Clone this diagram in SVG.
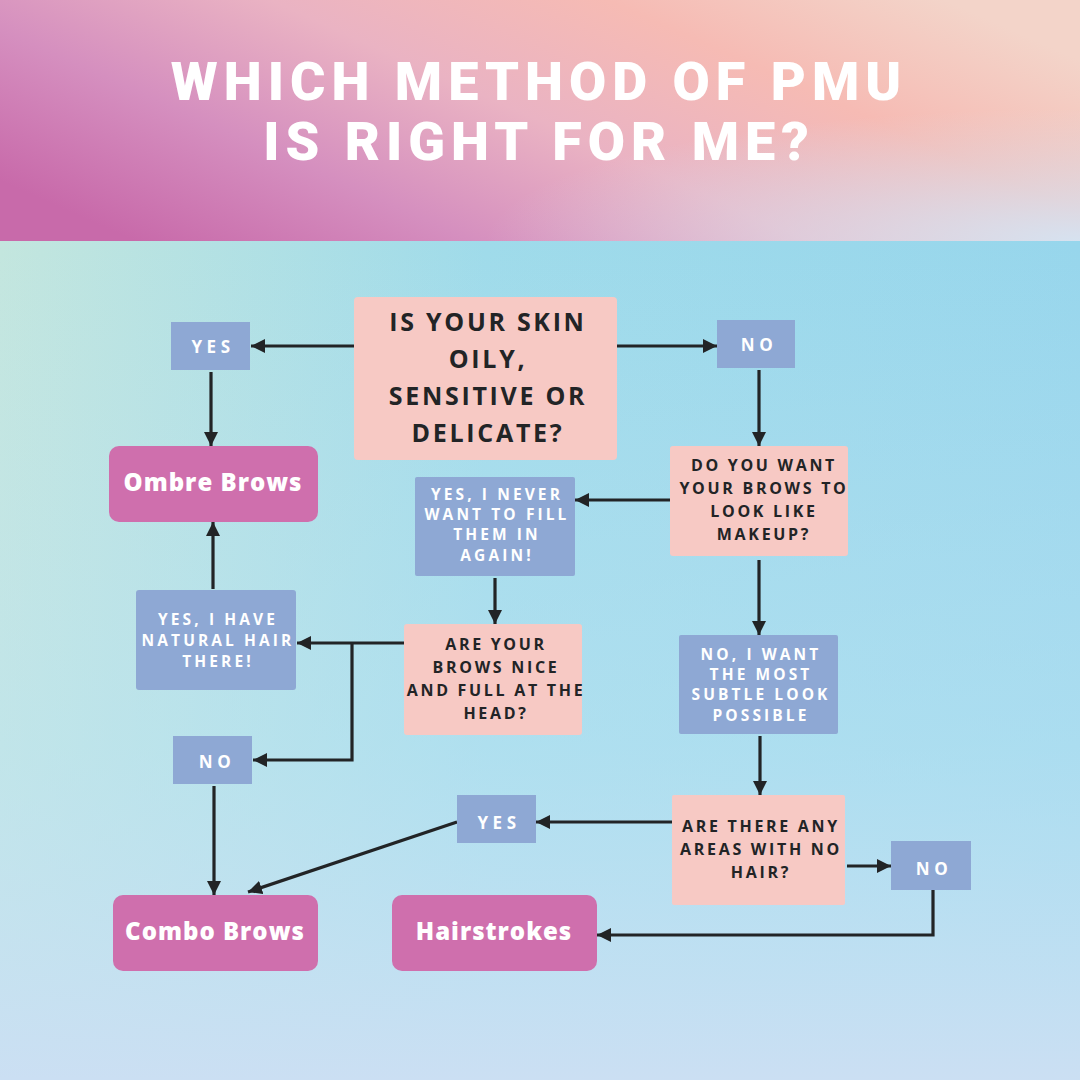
<svg xmlns="http://www.w3.org/2000/svg" width="1080" height="1080" viewBox="0 0 1080 1080">
<defs>
<linearGradient id="hdr" x1="0" y1="0.75" x2="1" y2="0.25">
<stop offset="0" stop-color="#c86aaa"/>
<stop offset="0.25" stop-color="#d58fbf"/>
<stop offset="0.5" stop-color="#eab3c3"/>
<stop offset="0.75" stop-color="#f6bbb4"/>
<stop offset="1" stop-color="#f3d4c9"/>
</linearGradient>
<radialGradient id="hdr2" cx="1" cy="1" r="0.55">
<stop offset="0" stop-color="#d6e2f0" stop-opacity="1"/>
<stop offset="1" stop-color="#d6e2f0" stop-opacity="0"/>
</radialGradient>
<linearGradient id="bg" x1="0" y1="0" x2="1" y2="0">
<stop offset="0" stop-color="#c3e6de"/>
<stop offset="0.45" stop-color="#9fdbea"/>
<stop offset="1" stop-color="#97d6ec"/>
</linearGradient>
<linearGradient id="bg2" x1="0" y1="0" x2="0" y2="1">
<stop offset="0" stop-color="#c6e3f4" stop-opacity="0"/>
<stop offset="0.6" stop-color="#bfe4f4" stop-opacity="0.5"/>
<stop offset="1" stop-color="#cbdff3" stop-opacity="1"/>
</linearGradient>
<marker id="ah" viewBox="0 0 10 10" refX="10" refY="5" markerWidth="14" markerHeight="14" markerUnits="userSpaceOnUse" orient="auto">
<path d="M0,0 L10,5 L0,10 Z" fill="#222426"/>
</marker>
<style>
.pink{fill:#f7c9c4}
.blue{fill:#8ea8d4}
.mag{fill:#cf6fad}
.q{font-family:"Open Sans","DejaVu Sans",sans-serif;font-weight:bold;fill:#222426;text-anchor:middle;letter-spacing:2.7px}
.a{font-family:"Open Sans","DejaVu Sans",sans-serif;font-weight:bold;fill:#ffffff;text-anchor:middle;letter-spacing:3.1px}
.s{font-family:"Open Sans","DejaVu Sans",sans-serif;font-weight:bold;fill:#ffffff;text-anchor:middle;letter-spacing:4.5px;font-size:17px}
.r{font-family:"Open Sans","DejaVu Sans",sans-serif;font-weight:800;fill:#ffffff;text-anchor:middle;font-size:24px;letter-spacing:1px}
.ttl{font-family:"Roboto","Liberation Sans",sans-serif;font-weight:900;fill:#ffffff;text-anchor:middle;font-size:54px;letter-spacing:6px}
.c{fill:none;stroke:#222426;stroke-width:3.2;marker-end:url(#ah)}
</style>
</defs>
<rect x="0" y="0" width="1080" height="1080" fill="url(#bg)"/>
<rect x="0" y="241" width="1080" height="839" fill="url(#bg2)"/>
<rect x="0" y="0" width="1080" height="241" fill="url(#hdr)"/>
<rect x="0" y="0" width="1080" height="241" fill="url(#hdr2)"/>
<g id="title">
<text class="ttl" x="539" y="100">WHICH METHOD OF PMU</text>
<text class="ttl" x="539" y="160">IS RIGHT FOR ME?</text>
</g>
<g id="connectors">
<path class="c" d="M354,346 H251"/>
<path class="c" d="M617,346 H717"/>
<path class="c" d="M211,372 V446"/>
<path class="c" d="M759,370 V446"/>
<path class="c" d="M670,500 H575"/>
<path class="c" d="M759,560 V635"/>
<path class="c" d="M495,578 V624"/>
<path class="c" d="M404,643 H297"/>
<path class="c" d="M352,643 V760 H253"/>
<path class="c" d="M213,589 V522"/>
<path class="c" d="M214,786 V895"/>
<path class="c" d="M457,822 L248,892"/>
<path class="c" d="M760,736 V795"/>
<path class="c" d="M672,822 H536"/>
<path class="c" d="M847,866 H891"/>
<path class="c" d="M933,890 V935 H597"/>
</g>
<g id="q1"><rect class="pink" x="354" y="297" width="263" height="163" rx="4"/>
<text class="q" font-size="25" letter-spacing="5"><tspan x="488" y="331">IS YOUR SKIN</tspan><tspan x="488" y="368">OILY,</tspan><tspan x="488" y="405">SENSITIVE OR</tspan><tspan x="488" y="442">DELICATE?</tspan></text></g>
<g id="yes1"><rect class="blue" x="171" y="322" width="79" height="48"/><text class="s" x="213" y="353">YES</text></g>
<g id="no1"><rect class="blue" x="717" y="320" width="78" height="48"/><text class="s" x="759" y="351">NO</text></g>
<g id="ombre"><rect class="mag" x="109" y="446" width="209" height="76" rx="10"/><text class="r" x="213" y="491">Ombre Brows</text></g>
<g id="q2"><rect class="pink" x="670" y="446" width="178" height="110" rx="3"/>
<text class="q" font-size="16"><tspan x="764" y="471">DO YOU WANT</tspan><tspan x="764" y="494">YOUR BROWS TO</tspan><tspan x="764" y="517">LOOK LIKE</tspan><tspan x="764" y="540">MAKEUP?</tspan></text></g>
<g id="yesnever"><rect class="blue" x="415" y="477" width="160" height="99" rx="2"/>
<text class="a" font-size="15.5"><tspan x="497" y="500">YES, I NEVER</tspan><tspan x="497" y="520">WANT TO FILL</tspan><tspan x="497" y="540">THEM IN</tspan><tspan x="497" y="561">AGAIN!</tspan></text></g>
<g id="q3"><rect class="pink" x="404" y="624" width="178" height="111" rx="3"/>
<text class="q" font-size="16"><tspan x="496" y="650">ARE YOUR</tspan><tspan x="496" y="673">BROWS NICE</tspan><tspan x="496" y="696">AND FULL AT THE</tspan><tspan x="496" y="719">HEAD?</tspan></text></g>
<g id="nowant"><rect class="blue" x="679" y="635" width="159" height="99" rx="2"/>
<text class="a" font-size="15.5"><tspan x="761" y="660">NO, I WANT</tspan><tspan x="761" y="680">THE MOST</tspan><tspan x="761" y="700">SUBTLE LOOK</tspan><tspan x="761" y="721">POSSIBLE</tspan></text></g>
<g id="yeshave"><rect class="blue" x="136" y="590" width="160" height="100" rx="3"/>
<text class="a" font-size="15.5"><tspan x="218" y="625">YES, I HAVE</tspan><tspan x="218" y="646">NATURAL HAIR</tspan><tspan x="218" y="667">THERE!</tspan></text></g>
<g id="no2"><rect class="blue" x="173" y="736" width="79" height="48"/><text class="s" x="217" y="768">NO</text></g>
<g id="combo"><rect class="mag" x="113" y="895" width="205" height="76" rx="10"/><text class="r" x="215" y="940">Combo Brows</text></g>
<g id="yes3"><rect class="blue" x="457" y="795" width="79" height="48"/><text class="s" x="499" y="829">YES</text></g>
<g id="q4"><rect class="pink" x="672" y="795" width="173" height="110" rx="2"/>
<text class="q" font-size="16"><tspan x="761" y="832">ARE THERE ANY</tspan><tspan x="761" y="855">AREAS WITH NO</tspan><tspan x="761" y="878">HAIR?</tspan></text></g>
<g id="no3"><rect class="blue" x="891" y="841" width="80" height="49"/><text class="s" x="934" y="875">NO</text></g>
<g id="hair"><rect class="mag" x="392" y="895" width="205" height="76" rx="10"/><text class="r" x="494" y="940">Hairstrokes</text></g>
</svg>
